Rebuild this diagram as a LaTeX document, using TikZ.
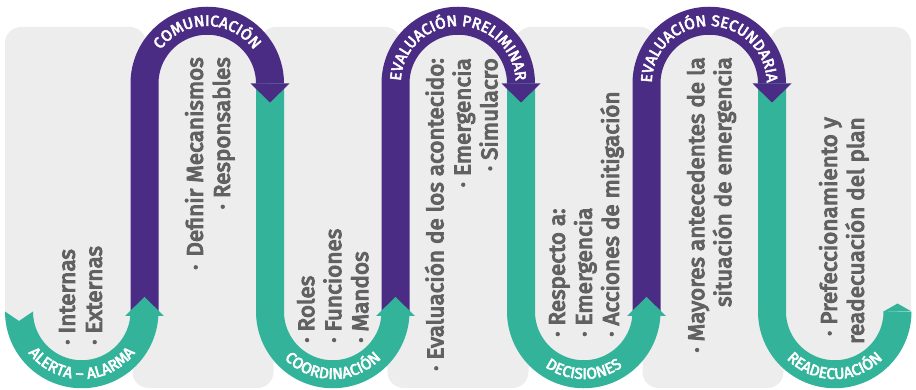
\documentclass[tikz,border=0pt]{standalone}
\usepackage{fontspec}
\newfontfamily\fasefont{Fira Sans}[FakeBold=5]
\newfontfamily\arcofont{Fira Sans}[FakeBold=3.5]
\usetikzlibrary{decorations.text}
\definecolor{morado}{HTML}{4B2C85}
\definecolor{verde}{HTML}{34B39B}
\definecolor{fondo}{HTML}{EDEDED}
\definecolor{letra}{HTML}{616161}
\tikzset{
  cinta/.style={line width=28pt},
  fase/.style={rotate=90, inner sep=0pt, text=letra, font=\fasefont\fontsize{22.5}{27}\selectfont},
  rotulo/.style={decorate, decoration={text along path, text align=center, text color=white,
      text={|\arcofont\fontsize{15.5}{15.5}\selectfont|#1}}}
}

\begin{document}
\begin{tikzpicture}[x=1pt,y=1pt]
  \useasboundingbox (0,0) rectangle (916,390);
  % paneles
  \foreach \k in {0,2,4,6}
    \fill[fondo, rounded corners=16] (5+127.5*\k,62.5) rectangle ++(141,300.5);
  \foreach \k in {1,3,5}
    \fill[fondo, rounded corners=16] (5+127.5*\k,2) rectangle ++(141,320.5);
  \foreach \i in {0,...,3}
    \fill[fondo] (81.75+251*\i,78.5) circle[radius=63];
  \foreach \i in {0,1,2}
    \fill[fondo] (207.25+251*\i,306.5) circle[radius=63];
  % cinta
  \fill[verde] (5,78.5) -- (19,69) -- (33,78.5) arc[start angle=180,end angle=360,radius=48.75]
    -- (158.5,78.5) arc[start angle=0,end angle=-180,radius=76.75] -- cycle;
  \foreach \i in {0,1,2}{
    \draw[cinta,morado] (144.5+251*\i,74) -- ++(0,232.5) arc[start angle=180,end angle=0,radius=62.75];
    \draw[cinta,verde] (270+251*\i,306.5) -- ++(0,-228) arc[start angle=180,end angle=360,radius=62.75];
  }
  % puntas
  \foreach \i in {0,1,2}{
    \fill[verde] (144.5+251*\i,74) ++(-19.5,0) -- ++(39,0) -- ++(-19.5,19) -- cycle;
    \fill[morado] (270+251*\i,306.5) ++(-19.5,0) -- ++(39,0) -- ++(-19.5,-19) -- cycle;
  }
  \fill[verde] (883.5,78.5) -- (897.5,86.5) -- (911.5,78.5) -- cycle;
  % rotulos
  \path[rotulo={ALERTA – ALARMA}] (81.75,78.5) ++(160:67.5) arc[start angle=160,end angle=380,radius=67.5];
  \path[rotulo={COMUNICACIÓN}] (207.25,306.5) ++(200:57.5) arc[start angle=200,end angle=-20,radius=57.5];
  \path[rotulo={COORDINACIÓN}] (332.75,78.5) ++(160:67.5) arc[start angle=160,end angle=380,radius=67.5];
  \path[rotulo={EVALUACIÓN PRELIMINAR}] (458.25,306.5) ++(200:57.5) arc[start angle=200,end angle=-20,radius=57.5];
  \path[rotulo={DECISIONES}] (583.75,78.5) ++(160:67.5) arc[start angle=160,end angle=380,radius=67.5];
  \path[rotulo={EVALUACIÓN SECUNDARIA}] (709.25,306.5) ++(200:57.5) arc[start angle=200,end angle=-20,radius=57.5];
  \path[rotulo={READECUACIÓN}] (834.75,78.5) ++(160:67.5) arc[start angle=160,end angle=380,radius=67.5];
  % textos
  \node[fase, anchor=north west, align=left] (alerta) at (59,45) {· Internas\\· Externas};
  \node[fase, anchor=north east, align=right] (comunicacion) at (185,333) {·\hspace{8pt}Definir Mecanismos\\· Responsables};
  \node[fase, anchor=north west, align=left] (coordinacion) at (297,47) {· Roles\\· Funciones\\· Mandos};
  \node[fase, anchor=north east, align=right] (preliminar) at (425,332) {· Evaluación de los acontecido:\\· Emergencia\\· Simulacro};
  \node[fase, anchor=north west, align=left] (decisiones) at (549,53) {· Respecto a:\\· Emergencia\\· Acciones de mitigación};
  \node[fase, anchor=north east, align=right] (secundaria) at (687,333) {· Mayores antecedentes de la\\situación de emergencia};
  \node[fase, anchor=north east, align=right] (readecuacion) at (819,273) {· Prefeccionamiento y\\readecuación del plan};
\end{tikzpicture}
\end{document}
